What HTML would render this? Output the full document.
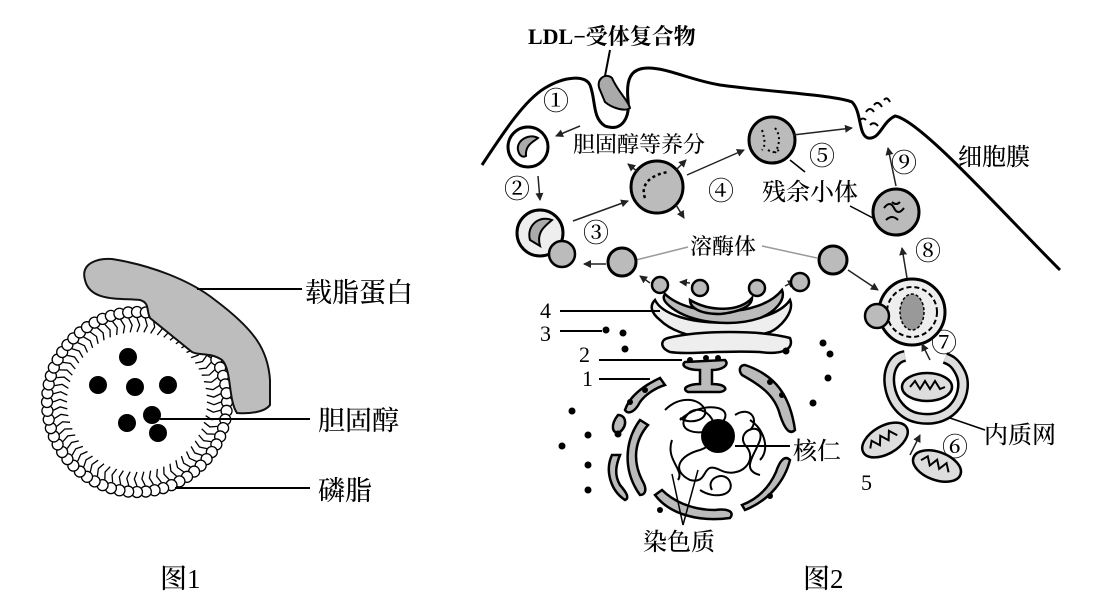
<!DOCTYPE html>
<html><head><meta charset="utf-8"><style>
body{margin:0;background:#fff;}
svg{display:block}
text{font-family:"Liberation Serif","Noto Serif CJK SC",serif;fill:#000;font-weight:500}
</style></head><body>
<svg id="s" width="1103" height="599" viewBox="0 0 1103 599" xmlns="http://www.w3.org/2000/svg">
<defs>
<marker id="a" markerWidth="8" markerHeight="8" refX="7" refY="4" orient="auto" markerUnits="userSpaceOnUse"><path d="M0,0 L8,4 L0,8 z" fill="#222"/></marker>
</defs>
<g id="lip"></g>
<path d="M85,280 C80,262 100,258 112,259 C150,265 190,280 215,300 C255,330 268,350 270,380 L270,405 C265,412 250,414 237,413 C228,400 232,370 222,360 C210,352 200,356 192,352 L150,318 C146,310 150,303 140,300 C120,298 90,302 85,280 Z" fill="#bdbdbd" stroke="#111" stroke-width="2"/>
<g fill="#000">
<circle cx="128" cy="357" r="9"/><circle cx="98" cy="385" r="9"/><circle cx="135" cy="387" r="9"/><circle cx="168" cy="385" r="9"/><circle cx="127" cy="423" r="9"/><circle cx="152" cy="415" r="9"/><circle cx="158" cy="433" r="9"/>
</g>
<g stroke="#000" stroke-width="2">
<line x1="197" y1="289" x2="302" y2="289"/><line x1="160" y1="419" x2="310" y2="419"/><line x1="175" y1="488" x2="310" y2="488"/>
</g>
<text x="305" y="302" font-size="27">载脂蛋白</text>
<text x="318" y="430" font-size="27">胆固醇</text>
<text x="318" y="500" font-size="27">磷脂</text>
<text x="160" y="588" font-size="27">图1</text>
<text x="803" y="588" font-size="27">图2</text>

<path d="M482,165 C505,130 525,100 545,88 C565,76 585,75 590,85 C596,100 592,118 605,126 C622,132 630,118 628,100 C626,80 630,68 648,68 C668,68 690,80 720,85 C770,92 835,95 852,102 C862,112 858,135 868,138 C880,140 882,122 895,116 C920,120 1000,210 1060,270" fill="none" stroke="#000" stroke-width="3"/>
<path d="M600,90 C595,80 605,72 612,78 C618,92 628,100 630,108 C625,112 612,108 605,102 Z" fill="#aaa" stroke="#000" stroke-width="2"/>
<text x="528" y="44" font-size="22" style="font-weight:bold">LDL−受体复合物</text>
<line x1="610" y1="50" x2="605" y2="76" stroke="#000" stroke-width="2"/>
<path d="M866,112 q4,-6 8,0 M874,105 q4,-5 8,2 M884,100 q3,-4 6,2 M870,125 q4,-4 8,1 M860,120 q3,-3 6,0" stroke="#000" stroke-width="2" fill="none"/>
<text x="958" y="165" font-size="24">细胞膜</text>

<g font-size="26">
<text x="543" y="110">①</text><text x="504" y="198">②</text><text x="583" y="242">③</text>
<text x="708" y="200">④</text><text x="809" y="165">⑤</text><text x="942" y="456">⑥</text>
<text x="931" y="352">⑦</text><text x="915" y="260">⑧</text><text x="891" y="172">⑨</text>
</g>
<circle cx="528" cy="147" r="20" fill="#fff" stroke="#000" stroke-width="3"/>
<path d="M518,150 C516,140 530,133 538,138 C533,142 525,145 526,156 C522,158 519,155 518,150Z" fill="#aaa" stroke="#000" stroke-width="2"/>
<line x1="580" y1="126" x2="556" y2="136" stroke="#222" stroke-width="1.5" marker-end="url(#a)"/>
<line x1="538" y1="176" x2="540" y2="200" stroke="#222" stroke-width="1.5" marker-end="url(#a)"/>
<circle cx="540" cy="233" r="23" fill="#eee" stroke="#000" stroke-width="3"/>
<circle cx="562" cy="254" r="13" fill="#bbb" stroke="#000" stroke-width="2.5"/>
<path d="M530,240 C526,225 540,215 552,220 C545,226 536,232 540,246 Z" fill="#aaa" stroke="#000" stroke-width="2"/>
<line x1="573" y1="221" x2="628" y2="201" stroke="#222" stroke-width="1.5" marker-end="url(#a)"/>
<circle cx="657" cy="187" r="26" fill="#bbb" stroke="#000" stroke-width="3"/>
<path d="M645,198 C640,185 650,175 668,172" stroke="#000" stroke-width="2.5" stroke-dasharray="3,3" fill="none"/>
<text x="573" y="152" font-size="22">胆固醇等养分</text>
<line x1="638" y1="172" x2="628" y2="164" stroke="#222" stroke-width="1.5" marker-end="url(#a)"/>
<line x1="676" y1="170" x2="686" y2="160" stroke="#222" stroke-width="1.5" marker-end="url(#a)"/>
<line x1="676" y1="205" x2="684" y2="218" stroke="#222" stroke-width="1.5" marker-end="url(#a)"/>
<line x1="687" y1="175" x2="744" y2="150" stroke="#222" stroke-width="1.5" marker-end="url(#a)"/>
<circle cx="772" cy="140" r="23" fill="#bbb" stroke="#000" stroke-width="3"/>
<path d="M762,130 q5,15 0,20 M775,128 q8,10 0,25 M768,150 q8,5 12,-2" stroke="#000" stroke-width="2" stroke-dasharray="2,3" fill="none"/>
<line x1="793" y1="135" x2="852" y2="128" stroke="#222" stroke-width="1.5" marker-end="url(#a)"/>
<line x1="790" y1="160" x2="805" y2="172" stroke="#000" stroke-width="1.5"/>
<text x="762" y="200" font-size="24">残余小体</text>
<line x1="850" y1="206" x2="873" y2="218" stroke="#000" stroke-width="1.5"/>
<circle cx="896" cy="212" r="23" fill="#bbb" stroke="#000" stroke-width="3"/>
<path d="M884,208 q6,-8 10,0 q4,8 10,0 M886,220 q6,-6 12,0 M892,202 q4,4 8,0" stroke="#000" stroke-width="2" fill="none"/>
<line x1="896" y1="186" x2="888" y2="148" stroke="#222" stroke-width="1.5" marker-end="url(#a)"/>
<line x1="910" y1="296" x2="902" y2="248" stroke="#222" stroke-width="1.5" marker-end="url(#a)"/>
<text x="690" y="254" font-size="22">溶酶体</text>
<line x1="636" y1="260" x2="688" y2="247" stroke="#999" stroke-width="1.5"/>
<line x1="762" y1="246" x2="817" y2="258" stroke="#999" stroke-width="1.5"/>
<circle cx="622" cy="262" r="14" fill="#bbb" stroke="#000" stroke-width="3"/>
<circle cx="833" cy="260" r="14" fill="#bbb" stroke="#000" stroke-width="3"/>
<line x1="606" y1="264" x2="584" y2="264" stroke="#222" stroke-width="1.5" marker-end="url(#a)"/>
<line x1="848" y1="270" x2="878" y2="290" stroke="#222" stroke-width="1.5" marker-end="url(#a)"/>
<line x1="650" y1="283" x2="640" y2="276" stroke="#222" stroke-width="1.5" marker-end="url(#a)"/>
<line x1="690" y1="283" x2="680" y2="282" stroke="#222" stroke-width="1.5" marker-end="url(#a)"/>
<line x1="785" y1="286" x2="795" y2="281" stroke="#222" stroke-width="1.5" marker-end="url(#a)"/>
<g stroke="#000" stroke-width="2.5">
<path d="M655,300 C670,330 770,330 790,300 C795,312 780,328 770,332 C730,345 680,340 660,320 C650,312 650,305 655,300Z" fill="#eee"/>
<path d="M665,294 C690,318 760,318 782,290 C786,300 775,312 760,318 C730,328 690,322 672,308 C664,302 662,298 665,294Z" fill="#bbb"/>
<path d="M690,300 C710,312 740,312 752,298 C752,306 740,312 720,314 C700,314 690,308 690,300Z" fill="#bbb"/>
<path d="M668,338 C700,330 760,330 790,338 C795,350 780,355 760,352 C720,350 690,355 670,352 C660,348 660,340 668,338Z" fill="#eee"/>
</g>
<g fill="#bbb" stroke="#000" stroke-width="2.5">
<circle cx="660" cy="285" r="8"/><circle cx="700" cy="288" r="8"/><circle cx="757" cy="288" r="8"/><circle cx="800" cy="282" r="9"/>
</g>
<circle cx="912" cy="312" r="33" fill="#eee" stroke="#000" stroke-width="3"/>
<circle cx="912" cy="312" r="25" fill="none" stroke="#000" stroke-width="2" stroke-dasharray="5,3"/>
<ellipse cx="912" cy="312" rx="12" ry="18" fill="#999" stroke="#000" stroke-width="1.5" stroke-dasharray="3,2"/>
<circle cx="877" cy="316" r="12" fill="#bbb" stroke="#000" stroke-width="2.5"/>
<path d="M905,356 C880,360 885,412 918,418 C955,425 970,390 960,372 C955,362 950,360 945,358" fill="none" stroke="#000" stroke-width="12"/>
<path d="M905,356 C880,360 885,412 918,418 C955,425 970,390 960,372 C955,362 950,360 945,358" fill="none" stroke="#ddd" stroke-width="7"/>
<ellipse cx="927" cy="387" rx="25" ry="14" fill="#ddd" stroke="#000" stroke-width="2.5"/>
<path d="M910,387 l5,-6 5,8 5,-8 5,8 5,-8 5,8 5,-2" stroke="#000" stroke-width="2" fill="none"/>
<line x1="930" y1="360" x2="922" y2="344" stroke="#222" stroke-width="1.5" marker-end="url(#a)"/>
<line x1="950" y1="418" x2="985" y2="430" stroke="#000" stroke-width="1.5"/>
<text x="984" y="443" font-size="24">内质网</text>
<g transform="rotate(-30 885 440)"><ellipse cx="885" cy="440" rx="25" ry="14" fill="#ddd" stroke="#000" stroke-width="2.5"/><path d="M868,440 l5,-6 5,8 5,-8 5,8 5,-8 5,8" stroke="#000" stroke-width="2" fill="none"/></g>
<g transform="rotate(20 937 466)"><ellipse cx="937" cy="466" rx="25" ry="14" fill="#ddd" stroke="#000" stroke-width="2.5"/><path d="M920,466 l5,-6 5,8 5,-8 5,8 5,-8 5,8" stroke="#000" stroke-width="2" fill="none"/></g>
<line x1="910" y1="455" x2="920" y2="435" stroke="#222" stroke-width="1.5" marker-end="url(#a)"/>
<text x="861" y="490" font-size="22">5</text>
<g font-size="22"><text x="540" y="318">4</text><text x="540" y="341">3</text><text x="579" y="362">2</text><text x="582" y="386">1</text></g>
<g stroke="#000" stroke-width="2"><line x1="560" y1="311" x2="660" y2="311"/><line x1="560" y1="331" x2="602" y2="331"/><line x1="599" y1="360" x2="682" y2="360"/><line x1="599" y1="379" x2="650" y2="379"/></g>
<g fill="#bbb" stroke="#000" stroke-width="2.5">
<path d="M685,362 L725,360 C730,365 722,370 712,370 L712,384 C725,384 730,390 720,392 L688,392 C680,388 690,384 700,384 L700,370 C688,370 680,366 685,362Z"/>
<path d="M745,365 C775,375 790,395 795,430 C790,435 785,430 780,415 C775,395 760,385 742,375 C738,370 740,365 745,365Z"/>
<path d="M660,378 C645,385 630,395 625,410 C628,415 635,412 640,402 C645,395 655,388 665,385Z"/>
<path d="M640,420 C625,440 622,470 640,495 C645,495 648,490 642,480 C632,460 635,440 648,425Z"/>
<path d="M655,495 C670,515 700,522 730,518 C735,512 728,508 715,510 C690,510 672,500 662,490Z"/>
<path d="M745,510 C770,500 785,480 790,460 C785,455 780,460 776,472 C768,490 755,500 742,505Z"/>
<path d="M618,415 C610,425 612,435 620,432 C628,425 626,415 618,415Z"/>
<path d="M612,455 C605,470 610,490 625,500 C630,498 626,492 620,485 C614,475 616,465 620,455Z"/>
</g>
<g fill="#000"><circle cx="690" cy="360" r="3"/><circle cx="706" cy="358" r="3"/><circle cx="718" cy="358" r="3"/><circle cx="770" cy="382" r="3"/><circle cx="782" cy="395" r="3"/><circle cx="645" cy="390" r="3"/><circle cx="630" cy="402" r="3"/><circle cx="660" cy="510" r="3"/><circle cx="770" cy="496" r="3"/>
<circle cx="606" cy="330" r="3.5"/><circle cx="623" cy="333" r="3.5"/><circle cx="625" cy="349" r="3.5"/><circle cx="786" cy="351" r="3.5"/><circle cx="823" cy="343" r="3.5"/><circle cx="830" cy="354" r="3.5"/><circle cx="828" cy="378" r="3.5"/><circle cx="813" cy="403" r="3.5"/><circle cx="572" cy="411" r="3.5"/><circle cx="588" cy="435" r="3.5"/><circle cx="618" cy="434" r="3.5"/><circle cx="562" cy="446" r="3.5"/><circle cx="588" cy="465" r="3.5"/><circle cx="588" cy="490" r="3.5"/></g>
<path d="M680,420 C700,400 740,405 720,425 C700,440 670,430 690,412 C710,400 730,440 700,450 C680,455 670,470 690,480 C710,485 700,460 720,470 C740,480 760,460 745,445 C735,430 765,420 760,440 C755,455 740,470 760,475 M672,440 C665,460 685,470 678,480 M735,415 C750,405 760,420 750,430 M665,410 C680,395 700,398 705,410 C708,420 690,425 680,418 M700,490 C715,500 735,495 730,482 C725,470 705,478 712,490 M750,420 C765,430 770,450 760,460" stroke="#000" stroke-width="2" fill="none"/>
<circle cx="718" cy="436" r="17" fill="#000"/>
<line x1="735" y1="446" x2="790" y2="446" stroke="#000" stroke-width="2"/>
<text x="793" y="459" font-size="24">核仁</text>
<path d="M683,525 L672,474 M683,525 L698,470" stroke="#000" stroke-width="1.5" fill="none"/>
<text x="643" y="550" font-size="24">染色质</text>
</svg>
<script>
var g=document.getElementById('lip'),cx=137,cy=402,R=90,h='';
for(var i=0;i<64;i++){var t=i/64*2*Math.PI;
var x=cx+R*Math.cos(t),y=cy+R*Math.sin(t);
var x1=cx+(R-6)*Math.cos(t),y1=cy+(R-6)*Math.sin(t);
var tm=t+0.035,xm=cx+(R-13)*Math.cos(tm),ym=cy+(R-13)*Math.sin(tm);
var x2=cx+(R-20)*Math.cos(t),y2=cy+(R-20)*Math.sin(t);
h+='<path d="M'+x1+','+y1+' L'+xm+','+ym+' L'+x2+','+y2+'" stroke="#000" stroke-width="1.3" fill="none"/>';
h+='<circle cx="'+x+'" cy="'+y+'" r="5.5" fill="#fff" stroke="#000" stroke-width="1.3"/>';}
g.innerHTML=h;
</script>
</body></html>
